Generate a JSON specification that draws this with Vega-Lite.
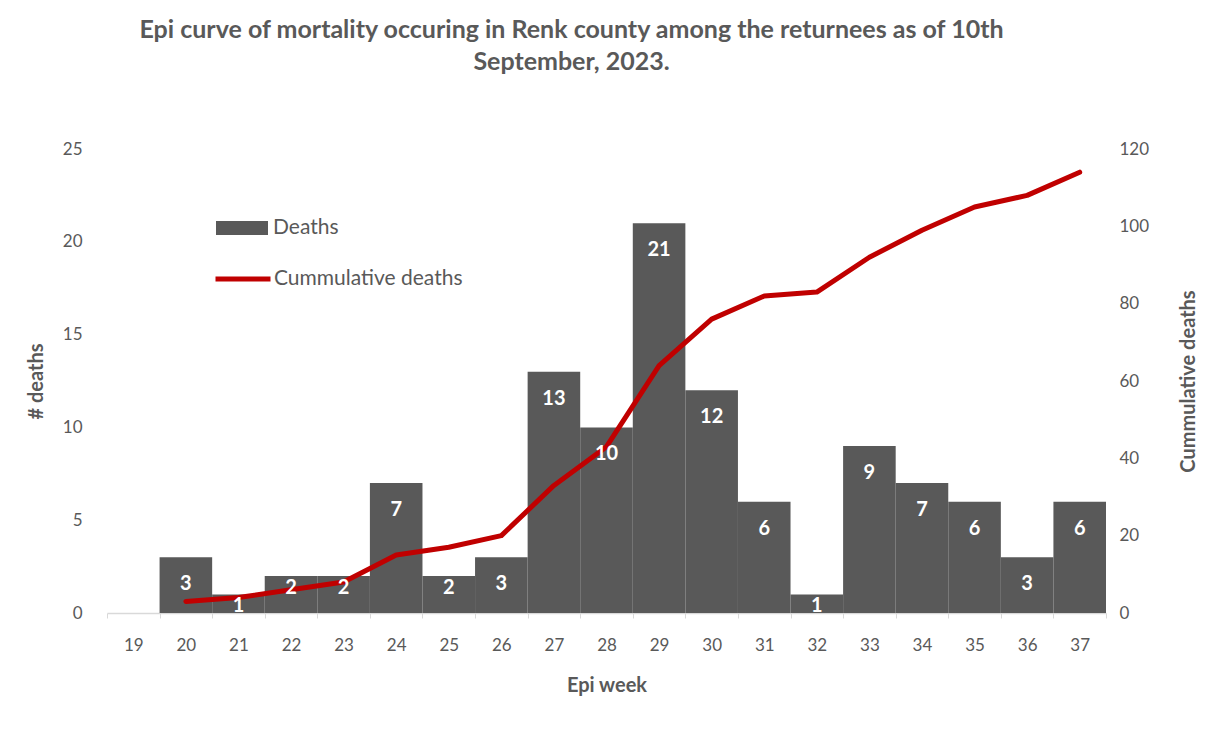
{
  "$schema": "https://vega.github.io/schema/vega-lite/v6.json",
  "autosize": {"type": "none"},
  "width": 999,
  "height": 464,
  "padding": {"left": 107, "top": 149, "right": 103, "bottom": 122},
  "background": "white",
  "config": {
    "font": "Lato",
    "view": {"stroke": null},
    "axis": {"labelColor": "#595959", "titleColor": "#595959", "labelFont": "Lato", "titleFont": "Lato", "grid": false}
  },
  "title": {
    "text": ["Epi curve of mortality occuring in Renk county among the returnees as of 10th", "September, 2023."],
    "anchor": "middle",
    "frame": "group",
    "dx": -35,
    "offset": 65,
    "fontSize": 25,
    "fontWeight": "bold",
    "color": "#595959",
    "lineHeight": 32,
    "font": "Lato"
  },
  "data": {
    "values": [
      {"week": "20", "deaths": 3, "cum": 3},
      {"week": "21", "deaths": 1, "cum": 4},
      {"week": "22", "deaths": 2, "cum": 6},
      {"week": "23", "deaths": 2, "cum": 8},
      {"week": "24", "deaths": 7, "cum": 15},
      {"week": "25", "deaths": 2, "cum": 17},
      {"week": "26", "deaths": 3, "cum": 20},
      {"week": "27", "deaths": 13, "cum": 33},
      {"week": "28", "deaths": 10, "cum": 43},
      {"week": "29", "deaths": 21, "cum": 64},
      {"week": "30", "deaths": 12, "cum": 76},
      {"week": "31", "deaths": 6, "cum": 82},
      {"week": "32", "deaths": 1, "cum": 83},
      {"week": "33", "deaths": 9, "cum": 92},
      {"week": "34", "deaths": 7, "cum": 99},
      {"week": "35", "deaths": 6, "cum": 105},
      {"week": "36", "deaths": 3, "cum": 108},
      {"week": "37", "deaths": 6, "cum": 114}
    ]
  },
  "encoding": {
    "x": {
      "field": "week",
      "type": "ordinal",
      "scale": {"domain": ["19","20","21","22","23","24","25","26","27","28","29","30","31","32","33","34","35","36","37"], "paddingInner": 0, "paddingOuter": 0},
      "axis": {
        "title": "Epi week",
        "titleFontSize": 20,
        "titleFontWeight": "bold",
        "titlePadding": 22,
        "labelAngle": 0,
        "labelFontSize": 17,
        "labelPadding": 19,
        "domainColor": "#d9d9d9",
        "domainWidth": 1.5,
        "tickColor": "#d9d9d9",
        "tickSize": 5,
        "tickBand": "extent"
      }
    }
  },
  "layer": [
    {
      "mark": {"type": "bar", "strokeWidth": 0},
      "encoding": {
        "y": {
          "field": "deaths",
          "type": "quantitative",
          "scale": {"domain": [0, 25]},
          "axis": {
            "title": "# deaths",
            "titleFontSize": 20,
            "titleFontWeight": "bold",
            "titlePadding": 16,
            "labelFontSize": 17,
            "labelPadding": 25,
            "values": [0, 5, 10, 15, 20, 25],
            "domain": false,
            "ticks": false,
            "tickSize": 0
          }
        },
        "fill": {
          "datum": "Deaths",
          "type": "nominal",
          "scale": {"domain": ["Deaths"], "range": ["#595959"]},
          "legend": {
            "orient": "none",
            "legendX": 109,
            "legendY": 53,
            "title": null,
            "padding": 0,
            "symbolType": "M-1,-0.27H1V0.27H-1Z",
            "symbolSize": 2704,
            "symbolStrokeWidth": 0,
            "labelFontSize": 21,
            "labelColor": "#595959",
            "labelFont": "Lato",
            "labelOffset": 5,
            "labelLimit": 400
          }
        }
      }
    },
    {
      "mark": {"type": "line", "strokeWidth": 5, "strokeCap": "round", "strokeJoin": "round"},
      "encoding": {
        "y": {
          "field": "cum",
          "type": "quantitative",
          "scale": {"domain": [0, 120]},
          "axis": {
            "orient": "right",
            "title": "Cummulative deaths",
            "titleAngle": 270,
            "titleFontSize": 20,
            "titleFontWeight": "bold",
            "titlePadding": 50,
            "labelFontSize": 17,
            "labelPadding": 13,
            "values": [0, 20, 40, 60, 80, 100, 120],
            "domain": false,
            "ticks": false,
            "tickSize": 0
          }
        },
        "stroke": {
          "datum": "Cummulative deaths",
          "type": "nominal",
          "scale": {"domain": ["Cummulative deaths"], "range": ["#C00000"]},
          "legend": {
            "orient": "none",
            "legendX": 106,
            "legendY": 100,
            "title": null,
            "padding": 0,
            "symbolType": "stroke",
            "symbolSize": 3025,
            "symbolStrokeWidth": 5,
            "labelFontSize": 21,
            "labelColor": "#595959",
            "labelFont": "Lato",
            "labelOffset": 1,
            "labelLimit": 400
          }
        }
      }
    },
    {
      "transform": [{"filter": "datum.deaths >= 3"}],
      "mark": {"type": "text", "color": "white", "fontWeight": "bold", "fontSize": 20, "baseline": "middle", "dy": 27, "font": "Lato"},
      "encoding": {
        "y": {"field": "deaths", "type": "quantitative", "scale": {"domain": [0, 25]}, "axis": null},
        "text": {"field": "deaths", "type": "quantitative"}
      }
    },
    {
      "transform": [{"filter": "datum.deaths < 3"}],
      "mark": {"type": "text", "color": "white", "fontWeight": "bold", "fontSize": 20, "baseline": "middle", "dy": 12, "font": "Lato"},
      "encoding": {
        "y": {"field": "deaths", "type": "quantitative", "scale": {"domain": [0, 25]}, "axis": null},
        "text": {"field": "deaths", "type": "quantitative"}
      }
    }
  ],
  "resolve": {"scale": {"y": "independent", "fill": "independent", "stroke": "independent"}}
}
